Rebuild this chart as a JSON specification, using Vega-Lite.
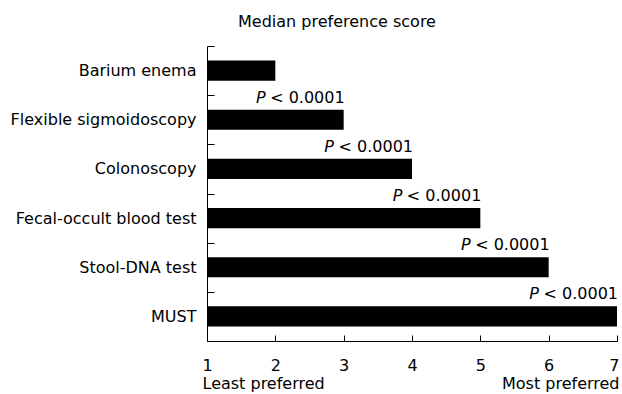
{
  "$schema": "https://vega.github.io/schema/vega-lite/v6.json",
  "autosize": {"type": "none"},
  "padding": {"left": 207, "top": 46, "right": 5, "bottom": 53},
  "width": 410,
  "height": 295,
  "background": "white",
  "title": {
    "text": "Median preference score",
    "anchor": "middle",
    "dx": -75,
    "offset": 8,
    "font": "DejaVu Sans",
    "fontSize": 16,
    "fontWeight": "normal",
    "color": "black"
  },
  "config": {
    "view": {"stroke": null},
    "text": {"font": "DejaVu Sans", "fontSize": 16, "color": "black"},
    "axis": {"labelFont": "DejaVu Sans", "labelFontSize": 16, "labelColor": "black", "domainColor": "black", "tickColor": "black", "grid": false, "labelLimit": 0, "labelOverlap": false}
  },
  "data": {
    "values": [
      {"test": "Barium enema", "score": 2, "p": null},
      {"test": "Flexible sigmoidoscopy", "score": 3, "p": " < 0.0001"},
      {"test": "Colonoscopy", "score": 4, "p": " < 0.0001"},
      {"test": "Fecal-occult blood test", "score": 5, "p": " < 0.0001"},
      {"test": "Stool-DNA test", "score": 6, "p": " < 0.0001"},
      {"test": "MUST", "score": 7, "p": " < 0.0001"}
    ]
  },
  "encoding": {
    "y": {
      "field": "test",
      "type": "nominal",
      "sort": null,
      "scale": {"paddingInner": 0, "paddingOuter": 0},
      "axis": {
        "title": null,
        "tickBand": "extent",
        "tickSize": -7,
        "labelPadding": 18,
        "domainWidth": 1,
        "tickWidth": 1
      }
    },
    "x": {
      "field": "score",
      "type": "quantitative",
      "scale": {"domain": [1, 7], "zero": false, "nice": false},
      "axis": {
        "title": null,
        "values": [1, 2, 3, 4, 5, 6, 7],
        "tickSize": -6,
        "labelPadding": 22,
        "labelLineHeight": 18,
        "labelBaseline": "top",
        "labelFlush": false,
        "labelExpr": "datum.value == 1 ? ['1', 'Least preferred'] : datum.value == 7 ? ['7', 'Most preferred'] : datum.label",
        "labelAlign": {"condition": [{"test": "datum.value == 1", "value": "left"}, {"test": "datum.value == 7", "value": "right"}], "value": "center"},
        "labelOffset": {"condition": [{"test": "datum.value == 1", "value": -5}, {"test": "datum.value == 7", "value": 2}], "value": 0}
      }
    }
  },
  "layer": [
    {
      "mark": {"type": "bar", "color": "black", "height": {"band": 0.41}},
      "encoding": {"x2": {"datum": 1}}
    },
    {
      "transform": [{"filter": "datum.p != null"}],
      "mark": {"type": "text", "align": "right", "baseline": "alphabetic", "dx": 1, "dy": -17},
      "encoding": {"text": {"field": "p"}}
    },
    {
      "transform": [{"filter": "datum.p != null"}],
      "mark": {"type": "text", "align": "right", "baseline": "alphabetic", "dx": -78, "dy": -17, "fontStyle": "italic"},
      "encoding": {"text": {"value": "P"}}
    }
  ]
}
